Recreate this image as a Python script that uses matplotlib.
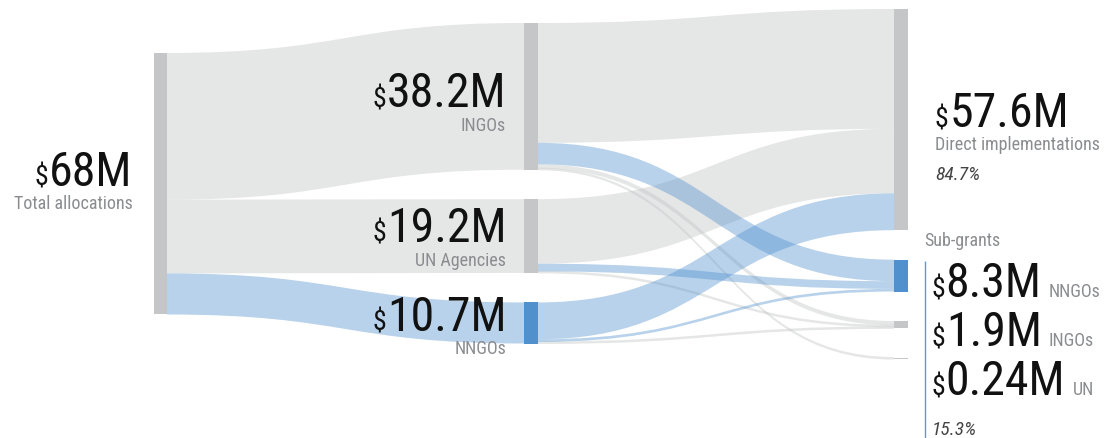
import numpy as np
import matplotlib
matplotlib.use("Agg")
import matplotlib.pyplot as plt
import matplotlib.text as mtext
from matplotlib import font_manager
from matplotlib.path import Path
from matplotlib.patches import PathPatch, Rectangle
from matplotlib.patheffects import AbstractPathEffect
from matplotlib.transforms import Affine2D, Bbox

# ---------------- data ----------------
total_value = 68.0
total_text = "68M"
total_label = "Total allocations"

mid_labels = ["INGOs", "UN Agencies", "NNGOs"]
mid_values = [38.2, 19.2, 10.7]
mid_texts = ["38.2M", "19.2M", "10.7M"]

right_labels = ["Direct implementations", "NNGOs", "INGOs", "UN"]
right_values = [57.6, 8.3, 1.9, 0.24]
right_texts = ["57.6M", "8.3M", "1.9M", "0.24M"]

# flows from each middle node to right nodes (Direct, NNGOs, INGOs, UN)
ingos_to_right = [31.2, 5.6, 1.1, 0.24]
un_to_right = [16.8, 2.0, 0.4, 0.0]
nngos_to_right = [9.6, 0.7, 0.4, 0.0]

direct_share = "84.7%"
subgrant_title = "Sub-grants"
subgrant_share = "15.3%"

# ---------------- style / layout ----------------
GREY_NODE = "#c5c6c8"
BLUE_NODE = "#4f90cd"
GREY_FLOW = (0xc5 / 255, 0xc6 / 255, 0xc8 / 255, 0.44)
BLUE_FLOW = (0x4f / 255, 0x90 / 255, 0xcd / 255, 0.40)
LABEL_GREY = "#8a8c8f"
PCT_GREY = "#444444"
NUM_COL = "#111111"

PX_PER_M = 3.84
GAP = 29.5
COL_X = [154, 524, 894]
NODE_W = [13, 14, 14]
COL_TOP = [54, 24, 10]
MIN_FLOW = 2.5
MIN_NODE = 1.3

LAB_SIZE = 13
PCT_SIZE = 14

left_mid_blue = [False, False, True]
mid_right_blue = [[False, True, False, False],
                  [False, True, False, False],
                  [True, True, False, False]]
mid_node_blue = [False, False, True]
right_node_blue = [False, True, False, False]

# prefer a real condensed face if one is installed
_names = {f.name for f in font_manager.fontManager.ttflist}
if "Roboto Condensed" in _names:
    FONT = "Roboto Condensed"
    SQ_NUM, SQ_LAB, SQ_PCT = 1.0, 1.0, 1.0
else:
    FONT = "Roboto"
    SQ_NUM, SQ_LAB, SQ_PCT = 0.87, 0.95, 0.93


class Squeeze(AbstractPathEffect):
    """Horizontally condense the glyphs of a Text around its left/right edge."""

    def __init__(self, sx, anchor="left"):
        super().__init__()
        self.sx = sx
        self.anchor = anchor

    def draw_path(self, renderer, gc, tpath, affine, rgbFace=None):
        ext = tpath.get_extents(affine)
        x0 = ext.x0 if self.anchor == "left" else ext.x1
        t = affine + Affine2D().translate(-x0, 0).scale(self.sx, 1).translate(x0, 0)
        renderer.draw_path(gc, tpath, t, rgbFace)


class SqText(mtext.Text):
    """Text drawn horizontally condensed (fallback only), with a matching extent."""

    def __init__(self, *args, sq=1.0, **kwargs):
        super().__init__(*args, **kwargs)
        self._sq = sq
        if sq != 1.0:
            self.set_path_effects([Squeeze(sq, self.get_horizontalalignment())])

    def get_window_extent(self, renderer=None, dpi=None):
        bb = super().get_window_extent(renderer, dpi)
        w = bb.width * self._sq
        if self.get_horizontalalignment() == "right":
            return Bbox([[bb.x1 - w, bb.y0], [bb.x1, bb.y1]])
        return Bbox([[bb.x0, bb.y0], [bb.x0 + w, bb.y1]])


fig = plt.figure(figsize=(11.19, 4.39), dpi=100)
ax = fig.add_axes([0, 0, 1, 1])
ax.set_xlim(0, 1119)
ax.set_ylim(439, 0)
ax.axis("off")

# node tops
left_top = COL_TOP[0]
mid_tops = []
y = COL_TOP[1]
for v in mid_values:
    mid_tops.append(y)
    y += v * PX_PER_M + GAP
right_tops = []
y = COL_TOP[2]
for v in right_values:
    right_tops.append(y)
    y += v * PX_PER_M + GAP


def flow(x0, y0a, y0b, x1, y1a, y1b, color):
    if y0b - y0a < MIN_FLOW:
        c = (y0a + y0b) / 2
        y0a, y0b = c - MIN_FLOW / 2, c + MIN_FLOW / 2
    if y1b - y1a < MIN_FLOW:
        c = (y1a + y1b) / 2
        y1a, y1b = c - MIN_FLOW / 2, c + MIN_FLOW / 2
    xm = (x0 + x1) / 2
    verts = [(x0, y0a), (xm, y0a), (xm, y1a), (x1, y1a),
             (x1, y1b), (xm, y1b), (xm, y0b), (x0, y0b), (x0, y0a)]
    codes = [Path.MOVETO, Path.CURVE4, Path.CURVE4, Path.CURVE4,
             Path.LINETO, Path.CURVE4, Path.CURVE4, Path.CURVE4, Path.CLOSEPOLY]
    ax.add_patch(PathPatch(Path(verts, codes), facecolor=color, edgecolor="none", lw=0))


flows_grey, flows_blue = [], []
# left -> middle
off = 0.0
for i, v in enumerate(mid_values):
    args = (COL_X[0] + NODE_W[0], left_top + off * PX_PER_M, left_top + (off + v) * PX_PER_M,
            COL_X[1], mid_tops[i], mid_tops[i] + v * PX_PER_M)
    (flows_blue if left_mid_blue[i] else flows_grey).append(args)
    off += v

# middle -> right
mid_flows = [ingos_to_right, un_to_right, nngos_to_right]
in_off = [0.0] * len(right_values)
for i, row in enumerate(mid_flows):
    out_off = 0.0
    for j, v in enumerate(row):
        if v <= 0:
            continue
        args = (COL_X[1] + NODE_W[1], mid_tops[i] + out_off * PX_PER_M,
                mid_tops[i] + (out_off + v) * PX_PER_M,
                COL_X[2], right_tops[j] + in_off[j] * PX_PER_M,
                right_tops[j] + (in_off[j] + v) * PX_PER_M)
        (flows_blue if mid_right_blue[i][j] else flows_grey).append(args)
        out_off += v
        in_off[j] += v

for a in flows_grey:
    flow(*a, GREY_FLOW)
for a in flows_blue:
    flow(*a, BLUE_FLOW)

# nodes
ax.add_patch(Rectangle((COL_X[0], left_top), NODE_W[0], total_value * PX_PER_M,
                       facecolor=GREY_NODE, edgecolor="none", zorder=3))
for i, v in enumerate(mid_values):
    ax.add_patch(Rectangle((COL_X[1], mid_tops[i]), NODE_W[1], v * PX_PER_M,
                           facecolor=BLUE_NODE if mid_node_blue[i] else GREY_NODE,
                           edgecolor="none", zorder=3))
for j, v in enumerate(right_values):
    ax.add_patch(Rectangle((COL_X[2], right_tops[j]), NODE_W[2], max(v * PX_PER_M, MIN_NODE),
                           facecolor=BLUE_NODE if right_node_blue[j] else GREY_NODE,
                           edgecolor="none", zorder=3))

# ---------------- text ----------------
renderer = fig.canvas.get_renderer()


def txt(x, y, s, size, color, ha="left", style="normal", sq=1.0):
    t = SqText(x, y, s, sq=sq, fontsize=size, color=color, ha=ha,
               va="baseline", family=FONT, style=style, zorder=5)
    ax._add_text(t)
    return t


def width(t):
    return t.get_window_extent(renderer).width


def money_right(xr, yb, s, size=34.5, dsize=20):
    t = txt(xr, yb, s, size, NUM_COL, ha="right", sq=SQ_NUM)
    w = width(t)
    txt(xr - w - 0.5, yb, "$", dsize, NUM_COL, ha="right", sq=SQ_NUM)


def money_left(xl, yb, s, size=34.5, dsize=20):
    d = txt(xl, yb, "$", dsize, NUM_COL, ha="left", sq=SQ_NUM)
    xn = xl + width(d) + 0.5
    t = txt(xn, yb, s, size, NUM_COL, ha="left", sq=SQ_NUM)
    return xn + width(t)


# left
money_right(132.5, 186, total_text)
txt(132.5, 209.3, total_label, LAB_SIZE, LABEL_GREY, ha="right", sq=SQ_LAB)

# middle
mid_num_base = [107.5, 242, 331]
mid_lab_base = [131.3, 266.3, 354.3]
for i in range(len(mid_values)):
    money_right(506.5, mid_num_base[i], mid_texts[i])
    txt(506, mid_lab_base[i], mid_labels[i], LAB_SIZE, LABEL_GREY, ha="right", sq=SQ_LAB)

# right: direct
money_left(935, 127.5, right_texts[0])
txt(935, 149.8, right_labels[0], LAB_SIZE, LABEL_GREY, sq=SQ_LAB)
txt(935, 180.5, direct_share, PCT_SIZE, PCT_GREY, style="italic", sq=SQ_PCT)

# right: sub-grants
txt(924, 246.5, subgrant_title, LAB_SIZE, LABEL_GREY, sq=SQ_LAB)
ax.plot([924.5, 924.5], [262, 439], color="#5b9bd5", lw=1.0, solid_capstyle="butt")
sub_base = [297.5, 346.5, 395.5]
for k, j in enumerate([1, 2, 3]):
    xe = money_left(931.5, sub_base[k], right_texts[j], size=34.5)
    txt(xe + 7, sub_base[k], right_labels[j], LAB_SIZE, LABEL_GREY, sq=SQ_NUM)
txt(932, 435, subgrant_share, PCT_SIZE, PCT_GREY, style="italic", sq=SQ_PCT)

fig.savefig("out.png", dpi=100)
